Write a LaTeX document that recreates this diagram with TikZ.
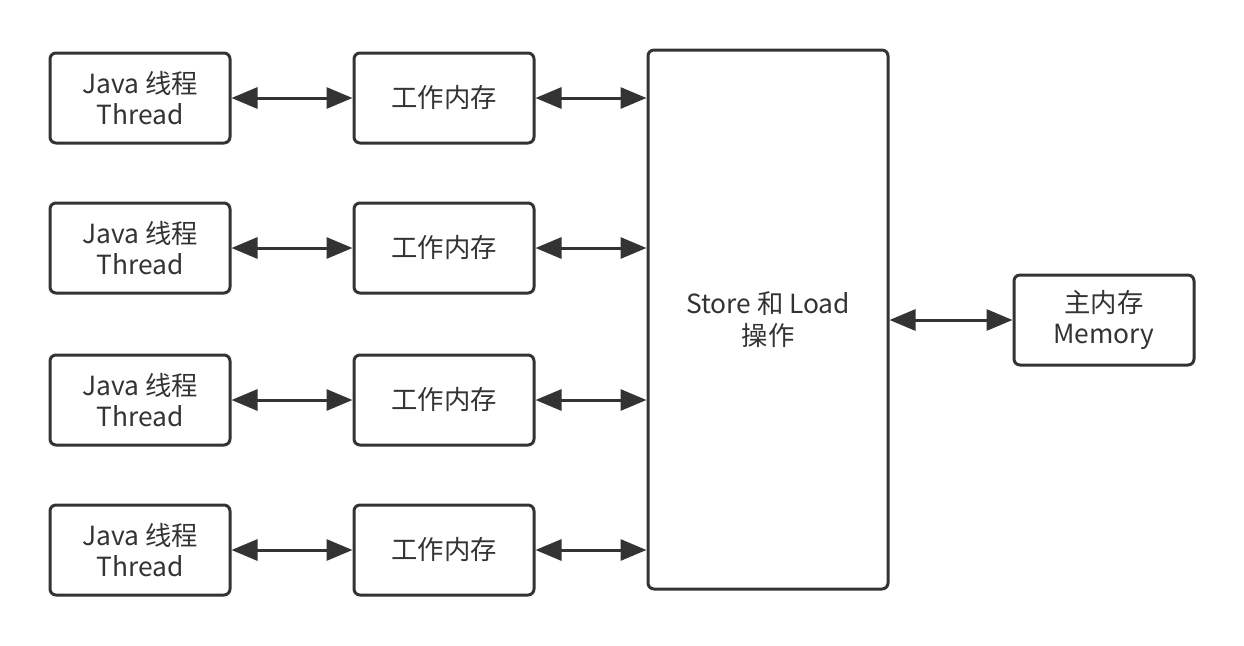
\documentclass[tikz,border=0pt]{standalone}
\usepackage{fontspec}
\setmainfont{Noto Sans CJK SC}
\usetikzlibrary{arrows.meta}
\definecolor{linegray}{HTML}{333333}
\tikzset{
	memblock/.style={draw=linegray, line width=0.06cm, rounded corners=0.12cm, minimum width=3.6cm, minimum height=1.8cm, align=center, text=linegray, font=\fontsize{15}{17.8}\selectfont},
	twoway/.style={draw=linegray, line width=0.06cm, {Triangle[length=0.52cm,width=0.42cm]}-{Triangle[length=0.52cm,width=0.42cm]}}
}

\begin{document}
\begin{tikzpicture}
			%%%%% START %%%%%
			\useasboundingbox (0, 0) rectangle (24.88, -12.9);
			
			\node[memblock] (thread1) at (2.8, -1.96) {Java 线程\\Thread};
			\node[memblock] (thread2) at (2.8, -4.96) {Java 线程\\Thread};
			\node[memblock] (thread3) at (2.8, -8.0) {Java 线程\\Thread};
			\node[memblock] (thread4) at (2.8, -11.0) {Java 线程\\Thread};
			
			\node[memblock] (work1) at (8.88, -1.96) {工作内存};
			\node[memblock] (work2) at (8.88, -4.96) {工作内存};
			\node[memblock] (work3) at (8.88, -8.0) {工作内存};
			\node[memblock] (work4) at (8.88, -11.0) {工作内存};
			
			\node[memblock, minimum width=4.8cm, minimum height=10.78cm] (storeload) at (15.36, -6.39) {Store 和 Load\\操作};
			\node[memblock] (mainmem) at (22.08, -6.4) {主内存\\Memory};
			
			\draw[twoway] (thread1) -- (work1);
			\draw[twoway] (thread2) -- (work2);
			\draw[twoway] (thread3) -- (work3);
			\draw[twoway] (thread4) -- (work4);
			
			\draw[twoway] (work1.east) -- (work1.east -| storeload.west);
			\draw[twoway] (work2.east) -- (work2.east -| storeload.west);
			\draw[twoway] (work3.east) -- (work3.east -| storeload.west);
			\draw[twoway] (work4.east) -- (work4.east -| storeload.west);
			
			\draw[twoway] (storeload.east |- mainmem.west) -- (mainmem.west);
			%%%%% END %%%%%
		\end{tikzpicture}
\end{document}
